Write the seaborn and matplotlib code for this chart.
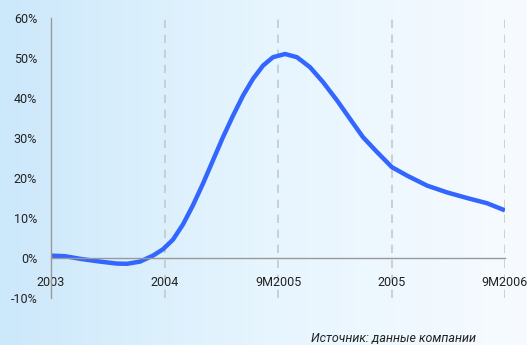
import numpy as np
import pandas as pd
import matplotlib
matplotlib.use("Agg")
import matplotlib.pyplot as plt
import seaborn as sns
from matplotlib.colors import LinearSegmentedColormap

# Data (x: period index, 0=2003 ... 4=9M2006; y: growth, %)
x_pos = [0.0, 0.123, 0.256, 0.405, 0.581, 0.670, 0.784, 0.899, 0.987, 1.075,
         1.163, 1.251, 1.339, 1.427, 1.515, 1.604, 1.692, 1.780, 1.868, 1.956,
         2.062, 2.167, 2.282, 2.396, 2.520, 2.634, 2.749, 2.872, 3.004, 3.137,
         3.313, 3.489, 3.665, 3.841, 4.0]
growth = [0.6, 0.45, -0.2, -0.8, -1.4, -1.45, -0.9, 0.6, 2.2, 4.6,
          8.4, 13.2, 18.6, 24.4, 30.2, 35.6, 40.6, 44.8, 48.1, 50.2,
          51.0, 50.2, 47.7, 44.0, 39.4, 34.8, 30.2, 26.5, 22.7, 20.6,
          18.1, 16.4, 15.0, 13.7, 11.9]
tick_labels = ["2003", "2004", "9M2005", "2005", "9M2006"]
y_ticks = [-10, 0, 10, 20, 30, 40, 50, 60]
source_text = "Источник: данные компании"

df = pd.DataFrame({"x": x_pos, "y": growth})

sns.set_theme(style="white")
plt.rcParams["font.family"] = ["Liberation Sans Narrow", "Roboto", "DejaVu Sans"]

fig = plt.figure(figsize=(5.27, 3.45), dpi=100)

# gradient background
bg = fig.add_axes([0, 0, 1, 1], zorder=-10)
grad = np.linspace(0, 1, 256).reshape(1, -1)
cmap = LinearSegmentedColormap.from_list("bg", ["#cce8fb", "#e6f5fe", "#f7fbff"])
bg.imshow(grad, aspect="auto", cmap=cmap, extent=[0, 1, 0, 1])
bg.set_axis_off()

ax = fig.add_axes([51 / 527, 1 - 298 / 345, (505 - 51) / 527, (298 - 18) / 345])
ax.patch.set_alpha(0)

sns.lineplot(data=df, x="x", y="y", ax=ax, color="#3366ff", linewidth=3.2,
             solid_capstyle="butt", solid_joinstyle="round")

ax.set_xlim(0, 4)
ax.set_ylim(-10, 60)
for xv in range(1, 5):
    ax.axvline(xv, color="#c8c8c8", linestyle=(0, (5, 4)), linewidth=1.2, zorder=0)

for s in ["top", "right"]:
    ax.spines[s].set_visible(False)
ax.spines["bottom"].set_position(("data", 0))
ax.spines["bottom"].set_color("#999999")
ax.spines["left"].set_color("#999999")
ax.spines["bottom"].set_linewidth(1.0)
ax.spines["left"].set_linewidth(1.0)

ax.set_yticks(y_ticks)
ax.set_yticklabels([f"{v}%" for v in y_ticks])
ax.set_xticks(range(5))
ax.set_xticklabels(tick_labels)
ax.tick_params(axis="both", direction="inout", length=8, width=1, color="#999999",
               labelsize=9, labelcolor="#222222")
ax.tick_params(axis="x", pad=9)
ax.tick_params(axis="y", pad=6)
ax.set_xlabel("")
ax.set_ylabel("")

fig.text(476 / 527, 1 - 338 / 345, source_text, ha="right", va="center",
         fontsize=9, style="italic", color="#222222")

fig.savefig("out.png", dpi=100)
